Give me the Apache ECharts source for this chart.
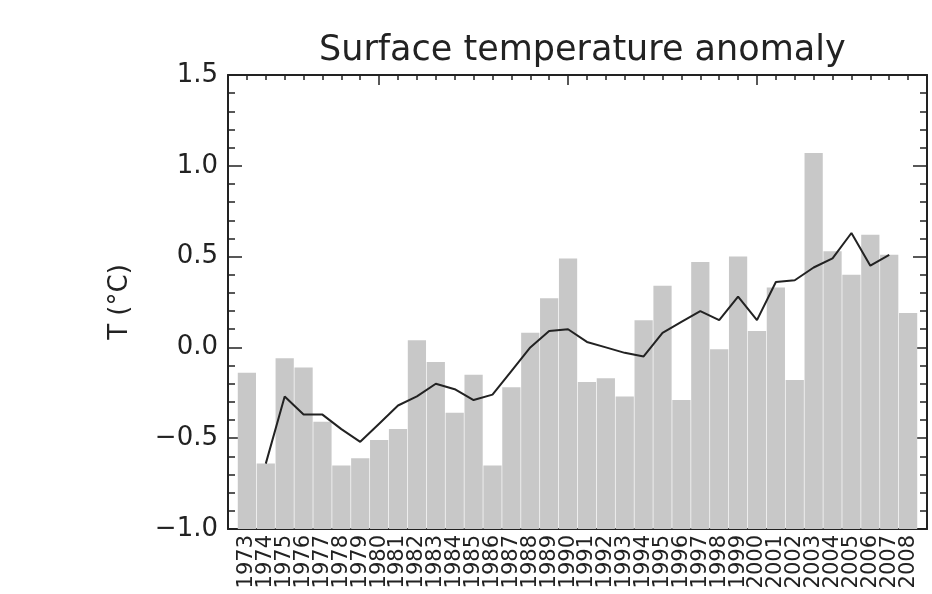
<!DOCTYPE html>
<html>
<head>
<meta charset="utf-8">
<script src="https://cdn.jsdelivr.net/npm/echarts@6/dist/echarts.min.js"></script>
<style>
html,body{margin:0;padding:0;background:#fff;}
#chart{width:932px;height:594px;}
</style>
</head>
<body>
<div id="chart"></div>
<script>
var years = [1973,1974,1975,1976,1977,1978,1979,1980,1981,1982,1983,1984,1985,1986,1987,1988,1989,1990,
             1991,1992,1993,1994,1995,1996,1997,1998,1999,2000,2001,2002,2003,2004,2005,2006,2007,2008];
var anomaly = [-0.14,-0.64,-0.06,-0.11,-0.41,-0.65,-0.61,-0.51,-0.45,0.04,-0.08,-0.36,-0.15,-0.65,-0.22,0.08,0.27,0.49,
               -0.19,-0.17,-0.27,0.15,0.34,-0.29,0.47,-0.01,0.50,0.09,0.33,-0.18,1.07,0.53,0.40,0.62,0.51,0.19];
var meanYears = [1974,1975,1976,1977,1978,1979,1980,1981,1982,1983,1984,1985,1986,1987,1988,1989,1990,
                 1991,1992,1993,1994,1995,1996,1997,1998,1999,2000,2001,2002,2003,2004,2005,2006,2007];
var meanValues = [-0.64,-0.27,-0.37,-0.37,-0.45,-0.52,-0.42,-0.32,-0.27,-0.20,-0.23,-0.29,-0.26,-0.13,0.00,0.09,0.10,
                  0.03,0.00,-0.03,-0.05,0.08,0.14,0.20,0.15,0.28,0.15,0.36,0.37,0.44,0.49,0.63,0.45,0.51];
var majorYears = [1980,1990,2000];
var yTicks = [-1.0,-0.5,0.0,0.5,1.0,1.5];
var titleText = 'Surface temperature anomaly';
var yName = 'T (\u00B0C)';

var FONT = 'DejaVu Sans';
var INK = '#222';
var xMin = 1972, xMax = 2009;
var yMin = yTicks[0], yMax = yTicks[yTicks.length - 1];

var barData = years.map(function (y, i) { return [y, anomaly[i]]; });
var lineData = meanYears.map(function (y, i) { return [y, meanValues[i]]; });

function xAxisBase(pos) {
  return {
    type: 'value', position: pos, min: xMin, max: xMax, interval: 1,
    splitLine: { show: false },
    axisLine: { show: true, onZero: false, lineStyle: { color: INK, width: 2 } },
    axisTick: { show: true, inside: true, length: 5, lineStyle: { color: INK, width: 1.5 } },
    axisLabel: { show: false }
  };
}
function xAxisMajor(pos) {
  return {
    type: 'value', position: pos, min: xMin, max: xMax, offset: 0,
    splitLine: { show: false },
    axisLine: { show: false, onZero: false },
    axisTick: { show: true, inside: true, length: 10, customValues: majorYears, lineStyle: { color: INK, width: 1.5 } },
    axisLabel: { show: false }
  };
}
var xBottom = xAxisBase('bottom');
xBottom.axisLabel = {
  show: true, rotate: 90, margin: 6, color: INK, fontFamily: FONT, fontSize: 21,
  formatter: function (v) { return (v >= years[0] && v <= years[years.length - 1]) ? String(v) : ''; }
};
var xTop = xAxisBase('top');

function yAxisBase(pos, labels) {
  return {
    type: 'value', position: pos, min: yMin, max: yMax, interval: 0.5,
    splitLine: { show: false },
    axisLine: { show: true, onZero: false, lineStyle: { color: INK, width: 2 } },
    axisTick: { show: true, inside: true, length: 14, lineStyle: { color: INK, width: 1.5 } },
    minorTick: { show: true, splitNumber: 5, length: 7, lineStyle: { color: INK, width: 1.5 } },
    axisLabel: labels ? {
      show: true, margin: 10, color: INK, fontFamily: FONT, fontSize: 26,
      formatter: function (v) { return v.toFixed(1).replace('-', '\u2212'); }
    } : { show: false }
  };
}
var yLeft = yAxisBase('left', true);
yLeft.name = yName;
yLeft.nameLocation = 'middle';
yLeft.nameRotate = 90;
yLeft.nameGap = 95;
yLeft.nameTextStyle = { color: INK, fontFamily: FONT, fontSize: 26 };
var yRight = yAxisBase('right', false);

var chart = echarts.init(document.getElementById('chart'), null, { renderer: 'canvas' });
chart.setOption({
  animation: false,
  backgroundColor: '#ffffff',
  title: {
    text: titleText, left: 314, top: 28,
    textStyle: { color: INK, fontFamily: FONT, fontSize: 35, fontWeight: 'normal' }
  },
  grid: { left: 228, right: 5, top: 75, bottom: 65, containLabel: false },
  xAxis: [xBottom, xAxisMajor('bottom'), xTop, xAxisMajor('top')],
  yAxis: [yLeft, yRight],
  series: [
    {
      type: 'custom', xAxisIndex: 0, yAxisIndex: 0, data: barData, z: 1,
      renderItem: function (params, api) {
        var x = api.value(0), v = api.value(1);
        var top = api.coord([x, v]);
        var bot = api.coord([x, yMin]);
        var w = api.size([1, 0])[0] * 0.965;
        return {
          type: 'rect',
          shape: { x: top[0] - w / 2, y: top[1], width: w, height: bot[1] - top[1] },
          style: { fill: '#c8c8c8' }
        };
      }
    },
    {
      type: 'line', xAxisIndex: 0, yAxisIndex: 0, data: lineData, z: 3,
      symbol: 'none', smooth: false,
      lineStyle: { color: INK, width: 2 }
    }
  ]
});
</script>
</body>
</html>
